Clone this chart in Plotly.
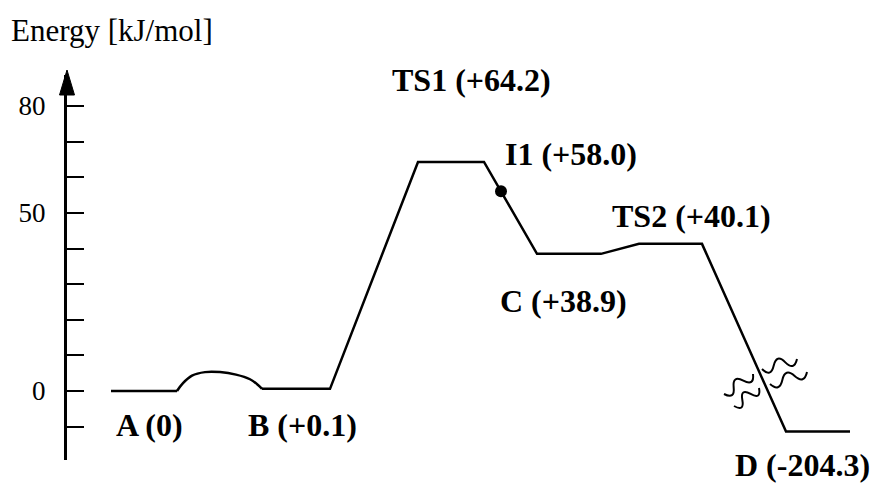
import plotly.graph_objects as go

# ----------------------------------------
# Data
# ----------------------------------------
# reaction coordinate (arbitrary units) and drawn energy of the profile
path_x = [111, 177, 177, 262, 330, 418, 484, 537, 601, 639, 702, 786, 850]
path_e = [0, 0, None, 0.6, 0.6, 64.3, 64.3, 38.5, 38.5, 41.3, 41.3, -11.4, -11.4]

# small barrier between A and B (smooth dome)
bump_x = [177, 183, 192, 205, 220, 236, 250, 258, 262]
bump_e = [0, 2.2, 4.3, 5.3, 5.3, 4.6, 3.3, 1.7, 0.6]

# intermediate sitting on the TS1 -> C slope
i1_x = [501]
i1_e = [56.1]

# labelled species: name, computed energy, where the label hangs
species = ['A', 'B', 'TS1', 'I1', 'TS2', 'C', 'D']
energies = [0, 0.1, 64.2, 58.0, 40.1, 38.9, -204.3]
anchor_x = [114, 246, 390, 503, 610, 498, 733]
anchor_e = [0, 0.6, 64.3, 56.1, 41.3, 38.5, -11.4]
label_shift = [-34, -36, 82, 37, 28, -47, -33]

tick_vals = [-10, 0, 10, 20, 30, 40, 50, 60, 70, 80]
tick_text = ['', '0', '', '', '', '', '50', '', '', '80']

W, H = 875, 483
FONT = 'Liberation Serif'


def px(x, y):
    # pixel -> paper coordinates (margins are zero)
    return x / W, 1 - y / H


def squiggle(x0, y0, x1, y1, n=3, a=5.5):
    # little wavy "axis break" mark, drawn as cubic beziers
    dx, dy = (x1 - x0) / n, (y1 - y0) / n
    length = (dx ** 2 + dy ** 2) ** 0.5
    nx, ny = -dy / length, dx / length
    sx, sy = px(x0, y0)
    d = f'M {sx:.5f},{sy:.5f}'
    for i in range(n):
        s = a * 1.33 * (1 if i % 2 == 0 else -1)
        ax, ay = x0 + dx * i, y0 + dy * i
        c1 = px(ax + dx / 3 + nx * s, ay + dy / 3 + ny * s)
        c2 = px(ax + 2 * dx / 3 + nx * s, ay + 2 * dy / 3 + ny * s)
        e = px(ax + dx, ay + dy)
        d += f' C {c1[0]:.5f},{c1[1]:.5f} {c2[0]:.5f},{c2[1]:.5f} {e[0]:.5f},{e[1]:.5f}'
    return dict(type='path', path=d, xref='paper', yref='paper',
                line=dict(color='black', width=2))


def fmt(v):
    return '0' if v == 0 else f'{v:+.1f}'


# ----------------------------------------
# Figure
# ----------------------------------------
fig = go.Figure()
fig.add_trace(go.Scatter(
    x=path_x, y=path_e, mode='lines',
    line=dict(color='black', width=2.5),
    hoverinfo='skip', showlegend=False
))
fig.add_trace(go.Scatter(
    x=bump_x, y=bump_e, mode='lines',
    line=dict(color='black', width=2.5, shape='spline'),
    hoverinfo='skip', showlegend=False
))
fig.add_trace(go.Scatter(
    x=i1_x, y=i1_e, mode='markers',
    marker=dict(color='black', size=12),
    showlegend=False
))

for name, e, x, ae, sh in zip(species, energies, anchor_x, anchor_e, label_shift):
    fig.add_annotation(
        x=x, y=ae, text=f'<b>{name} ({fmt(e)})</b>', showarrow=False,
        xanchor='left', yanchor='middle', yshift=sh,
        font=dict(family=FONT, size=32, color='black')
    )

fig.add_annotation(
    x=px(9, 30)[0], y=px(9, 30)[1], xref='paper', yref='paper',
    text='Energy [kJ/mol]', showarrow=False, xanchor='left', yanchor='middle',
    font=dict(family=FONT, size=31, color='black')
)

# arrow head on the energy axis
t = px(67, 70)
l = px(59.5, 95)
r = px(74.5, 95)
shapes = [dict(type='path', xref='paper', yref='paper',
               path=f'M {t[0]},{t[1]} L {l[0]},{l[1]} L {r[0]},{r[1]} Z',
               fillcolor='black', line=dict(color='black', width=1))]

# break marks on the TS2 -> D slope
shapes += [
    squiggle(724, 394, 753, 374),
    squiggle(734, 406, 759, 388),
    squiggle(762, 369, 797, 359),
    squiggle(770, 384, 807, 372),
]

y_px0, y_px1 = 460, 75
e_per_px = 1 / 3.5625
fig.update_layout(
    width=W, height=H,
    margin=dict(l=0, r=0, t=0, b=0),
    template='none',
    plot_bgcolor='white', paper_bgcolor='white',
    shapes=shapes,
    xaxis=dict(domain=[67 / W, 1], range=[67, W], visible=False, fixedrange=True),
    yaxis=dict(
        domain=[(H - y_px0) / H, (H - y_px1) / H],
        range=[(391 - y_px0) * e_per_px, (391 - y_px1) * e_per_px],
        showline=True, linewidth=3, linecolor='black',
        ticks='inside', ticklen=17, tickwidth=2, tickcolor='black',
        tickvals=tick_vals, ticktext=tick_text,
        tickfont=dict(family=FONT, size=27, color='black'),
        ticklabelstandoff=13,
        showgrid=False, zeroline=False, fixedrange=True
    )
)

# the page body has a default 8px margin; drop it so the figure sits at the corner
fig.write_html('out.html', config={'displayModeBar': False},
               post_script="document.body.style.margin='0';")
